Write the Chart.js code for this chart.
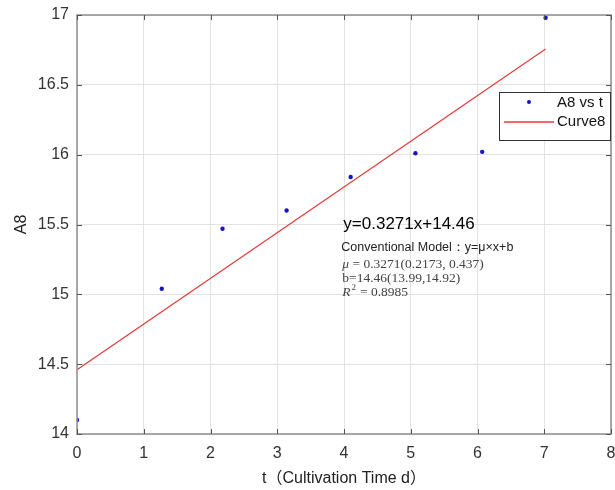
<!DOCTYPE html>
<html>
<head>
<title>A8 vs t</title>
<script src="https://cdn.jsdelivr.net/npm/chart.js"></script>
<style>
    body { margin: 0; background: #fff; }
</style>
</head>
<body>
<canvas id="chart" width="615" height="490"></canvas>
<script>
    // measured points
    const tDays = [0, 1.27, 2.18, 3.14, 4.1, 5.07, 6.07, 7.02];
    const a8Values = [14.1, 15.04, 15.47, 15.6, 15.84, 16.01, 16.02, 16.98];

    // linear fit y = mu*x + b
    const fitSlope = 0.3271;
    const fitIntercept = 14.46;
    const fitRange = [0, 7.02];

    const xTicks = [0, 1, 2, 3, 4, 5, 6, 7, 8];
    const yTicks = [14, 14.5, 15, 15.5, 16, 16.5, 17];

    const seriesNames = ['A8 vs t', 'Curve8'];
    const fitLabel = 'y=0.3271x+14.46';
    const modelLabel = 'Conventional Model\uFF1Ay=\u03BC\u00D7x+b';
    const muLabel = ' = 0.3271(0.2173, 0.437)';
    const bLabel = 'b=14.46(13.99,14.92)';
    const r2Label = ' = 0.8985';

    const pointColor = '#1414c8';
    const fitColor = '#e23b3b';
    const sans = "'Liberation Sans', Arial, sans-serif";
    const serif = "'Liberation Serif', 'Times New Roman', serif";

    const fitPoints = fitRange.map(x => ({ x: x, y: fitSlope * x + fitIntercept }));

    // box, inward ticks, legend and fit notes
    const frame = {
        id: 'frame',
        afterDraw(chart) {
            const { ctx, chartArea: a, scales: { x, y } } = chart;
            ctx.save();
            ctx.strokeStyle = '#8f8f8f';
            ctx.lineWidth = 1.5;
            ctx.strokeRect(a.left, a.top, a.right - a.left, a.bottom - a.top);

            ctx.lineWidth = 1;
            ctx.strokeStyle = '#555';
            ctx.beginPath();
            xTicks.forEach(v => {
                const px = Math.round(x.getPixelForValue(v)) + 0.5;
                ctx.moveTo(px, a.bottom); ctx.lineTo(px, a.bottom - 5);
                ctx.moveTo(px, a.top); ctx.lineTo(px, a.top + 5);
            });
            yTicks.forEach(v => {
                const py = Math.round(y.getPixelForValue(v)) + 0.5;
                ctx.moveTo(a.left, py); ctx.lineTo(a.left + 5, py);
                ctx.moveTo(a.right, py); ctx.lineTo(a.right - 5, py);
            });
            ctx.stroke();

            // legend
            const lx = a.right - 112, ly = a.top + 77, lw = 111, lh = 48;
            ctx.fillStyle = '#fff';
            ctx.fillRect(lx, ly, lw, lh);
            ctx.strokeStyle = '#333';
            ctx.strokeRect(lx + 0.5, ly + 0.5, lw, lh);
            ctx.fillStyle = pointColor;
            ctx.beginPath();
            ctx.arc(lx + 30, ly + 10, 2, 0, Math.PI * 2);
            ctx.fill();
            ctx.strokeStyle = fitColor;
            ctx.lineWidth = 1.3;
            ctx.beginPath();
            ctx.moveTo(lx + 5, ly + 30); ctx.lineTo(lx + 55, ly + 30);
            ctx.stroke();
            ctx.fillStyle = '#111';
            ctx.font = '15px ' + sans;
            ctx.textBaseline = 'middle';
            ctx.fillText(seriesNames[0], lx + 58, ly + 11);
            ctx.fillText(seriesNames[1], lx + 58, ly + 30);

            // fit notes
            const nx = x.getPixelForValue(3.99);
            const ny = y.getPixelForValue(15.5);
            ctx.fillStyle = '#000';
            ctx.font = '17px ' + sans;
            ctx.fillText(fitLabel, nx, ny);
            ctx.fillStyle = '#222';
            ctx.font = '12.5px ' + sans;
            ctx.fillText(modelLabel, nx - 2, ny + 23);
            ctx.fillStyle = '#444';
            ctx.font = 'italic 13.5px ' + serif;
            ctx.fillText('\u03BC', nx - 1, ny + 40);
            let w = ctx.measureText('\u03BC').width;
            ctx.font = '13.5px ' + serif;
            ctx.fillText(muLabel, nx - 1 + w, ny + 40);
            ctx.fillText(bLabel, nx - 1, ny + 54);
            ctx.font = 'italic 13.5px ' + serif;
            ctx.fillText('R', nx - 1, ny + 68);
            w = ctx.measureText('R').width;
            ctx.font = '9px ' + serif;
            ctx.fillText('2', nx - 1 + w + 1, ny + 63);
            ctx.font = '13.5px ' + serif;
            ctx.fillText(r2Label, nx - 1 + w + 6, ny + 68);
            ctx.restore();
        }
    };

    new Chart(document.getElementById('chart'), {
        type: 'scatter',
        data: {
            datasets: [
                {
                    label: seriesNames[0],
                    data: tDays.map((t, i) => ({ x: t, y: a8Values[i] })),
                    backgroundColor: pointColor,
                    borderColor: pointColor,
                    pointRadius: 2.2,
                    pointBorderWidth: 0
                },
                {
                    label: seriesNames[1],
                    data: fitPoints,
                    showLine: true,
                    borderColor: fitColor,
                    borderWidth: 1.2,
                    pointRadius: 0,
                    fill: false
                }
            ]
        },
        options: {
            responsive: false,
            animation: false,
            layout: { padding: { top: 15, right: 2, left: 0, bottom: 0 } },
            plugins: {
                legend: { display: false },
                tooltip: { enabled: false }
            },
            scales: {
                x: {
                    type: 'linear',
                    min: 0,
                    max: 8,
                    afterBuildTicks: s => { s.ticks = xTicks.map(v => ({ value: v })); },
                    afterFit: s => { s.height = 56; s.paddingRight = 0; s.paddingLeft = 0; },
                    grid: { color: '#e3e3e3', drawTicks: false },
                    border: { display: false },
                    ticks: {
                        color: '#333', padding: 10, font: { family: sans, size: 16 },
                        callback: v => String(v)
                    },
                    title: {
                        display: true,
                        text: 't\uFF08Cultivation Time d\uFF09',
                        color: '#222',
                        padding: { top: 0, bottom: 2 },
                        font: { family: sans + ", 'Noto Sans CJK SC'", size: 16 }
                    }
                },
                y: {
                    min: 14,
                    max: 17,
                    afterBuildTicks: s => { s.ticks = yTicks.map(v => ({ value: v })); },
                    afterFit: s => { s.width = 77; s.paddingTop = 0; s.paddingBottom = 0; },
                    grid: { color: '#e3e3e3', drawTicks: false },
                    border: { display: false },
                    ticks: {
                        color: '#333', padding: 8, font: { family: sans, size: 16 },
                        callback: v => String(v)
                    },
                    title: {
                        display: true,
                        text: 'A8',
                        color: '#222',
                        padding: { top: 12, bottom: 0 },
                        font: { family: sans, size: 16 }
                    }
                }
            }
        },
        plugins: [frame]
    });
</script>
</body>
</html>
